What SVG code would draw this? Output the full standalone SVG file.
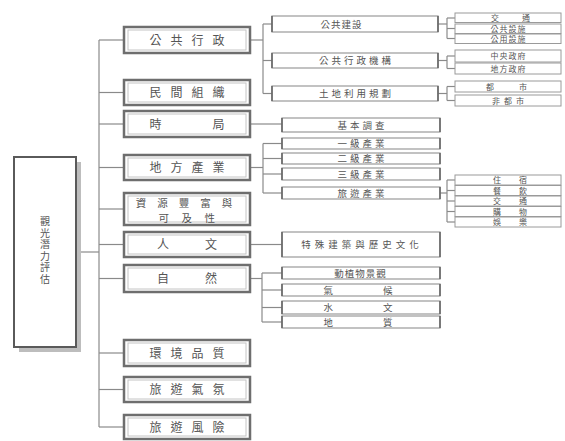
<svg xmlns="http://www.w3.org/2000/svg" width="565" height="441" viewBox="0 0 565 441">
<style>
text{font-family:"Noto Sans CJK TC","Noto Sans CJK SC",sans-serif;fill:#555;text-anchor:middle}
.l1 rect.o{fill:#fff;stroke:#6e6e6e;stroke-width:2.5}
.l1 rect.i{fill:none;stroke:#c4c4c4;stroke-width:1}
.l1 text{font-size:12px;letter-spacing:9px}
.l2 rect{fill:#fff;stroke:#9a9a9a;stroke-width:1.2}
.l2 line{stroke:#666;stroke-width:1.6}
.l2 text{font-size:9.5px;letter-spacing:3px}
.l3 rect{fill:#fff;stroke:#9a9a9a;stroke-width:1}
.l3 text{font-size:8px;letter-spacing:1px}
#connectors line{stroke:#8a8a8a;stroke-width:1.2;fill:none}
</style>
<rect width="565" height="441" fill="#fff"/>

<g id="connectors">
<line x1="81" y1="252" x2="99" y2="252"/>
<line x1="99" y1="40" x2="99" y2="427"/>
<line x1="99" y1="40" x2="124" y2="40"/>
<line x1="99" y1="92.5" x2="124" y2="92.5"/>
<line x1="99" y1="124" x2="124" y2="124"/>
<line x1="99" y1="167.5" x2="124" y2="167.5"/>
<line x1="99" y1="209" x2="124" y2="209"/>
<line x1="99" y1="244.5" x2="124" y2="244.5"/>
<line x1="99" y1="278.5" x2="124" y2="278.5"/>
<line x1="99" y1="353" x2="124" y2="353"/>
<line x1="99" y1="389.5" x2="124" y2="389.5"/>
<line x1="99" y1="427" x2="124" y2="427"/>
<line x1="250" y1="40" x2="263" y2="40"/>
<line x1="263" y1="24" x2="263" y2="93.5"/>
<line x1="263" y1="24" x2="272" y2="24"/>
<line x1="263" y1="60.5" x2="272" y2="60.5"/>
<line x1="263" y1="93.5" x2="272" y2="93.5"/>
<line x1="438" y1="24" x2="447" y2="24"/>
<line x1="447" y1="18" x2="447" y2="38.5"/>
<line x1="447" y1="18" x2="455" y2="18"/>
<line x1="447" y1="28.5" x2="455" y2="28.5"/>
<line x1="447" y1="38.5" x2="455" y2="38.5"/>
<line x1="438" y1="60.5" x2="447" y2="60.5"/>
<line x1="447" y1="56" x2="447" y2="68.5"/>
<line x1="447" y1="56" x2="455" y2="56"/>
<line x1="447" y1="68.5" x2="455" y2="68.5"/>
<line x1="438" y1="93.5" x2="447" y2="93.5"/>
<line x1="447" y1="86.5" x2="447" y2="100.5"/>
<line x1="447" y1="86.5" x2="455" y2="86.5"/>
<line x1="447" y1="100.5" x2="455" y2="100.5"/>
<line x1="250" y1="124" x2="282" y2="124"/>
<line x1="250" y1="167.5" x2="263" y2="167.5"/>
<line x1="263" y1="143.5" x2="263" y2="193"/>
<line x1="263" y1="143.5" x2="282" y2="143.5"/>
<line x1="263" y1="158.5" x2="282" y2="158.5"/>
<line x1="263" y1="174" x2="282" y2="174"/>
<line x1="263" y1="193" x2="282" y2="193"/>
<line x1="440" y1="193" x2="447" y2="193"/>
<line x1="447" y1="180" x2="447" y2="222"/>
<line x1="447" y1="180" x2="455" y2="180"/>
<line x1="447" y1="190.5" x2="455" y2="190.5"/>
<line x1="447" y1="201" x2="455" y2="201"/>
<line x1="447" y1="211.5" x2="455" y2="211.5"/>
<line x1="447" y1="222" x2="455" y2="222"/>
<line x1="250" y1="244.5" x2="282" y2="244.5"/>
<line x1="250" y1="278.5" x2="262" y2="278.5"/>
<line x1="262" y1="273" x2="262" y2="322"/>
<line x1="262" y1="273" x2="282" y2="273"/>
<line x1="262" y1="290" x2="282" y2="290"/>
<line x1="262" y1="307.5" x2="282" y2="307.5"/>
<line x1="262" y1="322" x2="282" y2="322"/>
</g>

<g id="root">
<rect x="19" y="162" width="62" height="190" fill="#bdbdbd"/>
<rect x="14" y="157" width="62" height="190" fill="#fff" stroke="#5a5a5a" stroke-width="2"/>
<text x="45" y="251" font-size="10" style="writing-mode:vertical-rl;letter-spacing:1.5px">觀光潛力評估</text>
</g>

<g id="n-gonggong" class="l1"><rect class="o" x="124" y="27" width="126" height="26"/><rect class="i" x="128" y="30" width="118" height="20"/><text x="191.5" y="44.5">公共行政</text></g>
<g id="n-minjian" class="l1"><rect class="o" x="124" y="80" width="126" height="25"/><rect class="i" x="128" y="83" width="118" height="19"/><text x="191.5" y="97">民間組織</text></g>
<g id="n-shiju" class="l1"><rect class="o" x="124" y="111" width="126" height="26"/><rect class="i" x="128" y="114" width="118" height="20"/><text x="191.5" y="128.5">時　　局</text></g>
<g id="n-difang" class="l1"><rect class="o" x="124" y="155" width="126" height="25"/><rect class="i" x="128" y="158" width="118" height="19"/><text x="191.5" y="172">地方產業</text></g>
<g id="n-ziyuan" class="l1"><rect class="o" x="124" y="193" width="126" height="32"/><rect class="i" x="128" y="196" width="118" height="26"/><text x="189.5" y="206.6" style="font-size:10.5px;letter-spacing:11px">資源豐富與</text><text x="193" y="221.8" style="font-size:10.5px;letter-spacing:12.5px">可及性</text></g>
<g id="n-renwen" class="l1"><rect class="o" x="124" y="232" width="126" height="25"/><rect class="i" x="128" y="235" width="118" height="19"/><text x="193" y="249" style="letter-spacing:12px">人　文</text></g>
<g id="n-ziran" class="l1"><rect class="o" x="124" y="265" width="126" height="27"/><rect class="i" x="128" y="268" width="118" height="21"/><text x="193" y="283" style="letter-spacing:12px">自　然</text></g>
<g id="n-huanjing" class="l1"><rect class="o" x="124" y="340" width="126" height="26"/><rect class="i" x="128" y="343" width="118" height="20"/><text x="191.5" y="357.5">環境品質</text></g>
<g id="n-qifen" class="l1"><rect class="o" x="124" y="377" width="126" height="25"/><rect class="i" x="128" y="380" width="118" height="19"/><text x="191.5" y="394">旅遊氣氛</text></g>
<g id="n-fengxian" class="l1"><rect class="o" x="124" y="415" width="126" height="24"/><rect class="i" x="128" y="418" width="118" height="18"/><text x="191.5" y="431.5">旅遊風險</text></g>

<g id="n-jianshe" class="l2"><rect x="272" y="16" width="166" height="16"/><line x1="272" y1="16" x2="272" y2="32"/><line x1="438" y1="16" x2="438" y2="32"/><text x="341.5" y="27.5" style="letter-spacing:1px">公共建設</text></g>
<g id="n-jigou" class="l2"><rect x="272" y="53" width="166" height="15"/><line x1="272" y1="53" x2="272" y2="68"/><line x1="438" y1="53" x2="438" y2="68"/><text x="356.5" y="64">公共行政機構</text></g>
<g id="n-tudi" class="l2"><rect x="272" y="86" width="166" height="15"/><line x1="272" y1="86" x2="272" y2="101"/><line x1="438" y1="86" x2="438" y2="101"/><text x="356.5" y="97">土地利用規劃</text></g>
<g id="n-jiben" class="l2"><rect x="282" y="118" width="158" height="14"/><line x1="282" y1="118" x2="282" y2="132"/><line x1="440" y1="118" x2="440" y2="132"/><text x="362.5" y="128.5">基本調查</text></g>
<g id="n-yiji" class="l2"><rect x="282" y="138" width="158" height="11"/><line x1="282" y1="138" x2="282" y2="149"/><line x1="440" y1="138" x2="440" y2="149"/><text x="362.5" y="147">一級產業</text></g>
<g id="n-erji" class="l2"><rect x="282" y="153" width="158" height="11"/><line x1="282" y1="153" x2="282" y2="164"/><line x1="440" y1="153" x2="440" y2="164"/><text x="362.5" y="162">二級產業</text></g>
<g id="n-sanji" class="l2"><rect x="282" y="168" width="158" height="12"/><line x1="282" y1="168" x2="282" y2="180"/><line x1="440" y1="168" x2="440" y2="180"/><text x="362.5" y="177.5">三級產業</text></g>
<g id="n-lvyou" class="l2"><rect x="282" y="187" width="158" height="12"/><line x1="282" y1="187" x2="282" y2="199"/><line x1="440" y1="187" x2="440" y2="199"/><text x="362.5" y="196.5">旅遊產業</text></g>
<g id="n-teshu" class="l2"><rect x="282" y="232" width="158" height="25"/><line x1="282" y1="232" x2="282" y2="257"/><line x1="440" y1="232" x2="440" y2="257"/><text x="362" y="248" style="letter-spacing:4px">特殊建築與歷史文化</text></g>
<g id="n-dongzhi" class="l2"><rect x="282" y="267" width="158" height="12"/><line x1="282" y1="267" x2="282" y2="279"/><line x1="440" y1="267" x2="440" y2="279"/><text x="360.5" y="276.5" style="letter-spacing:1px">動植物景觀</text></g>
<g id="n-qihou" class="l2"><rect x="282" y="284" width="158" height="12"/><line x1="282" y1="284" x2="282" y2="296"/><line x1="440" y1="284" x2="440" y2="296"/><text x="383" y="293.5" style="letter-spacing:50px">氣候</text></g>
<g id="n-shuiwen" class="l2"><rect x="282" y="301" width="158" height="13"/><line x1="282" y1="301" x2="282" y2="314"/><line x1="440" y1="301" x2="440" y2="314"/><text x="383" y="311" style="letter-spacing:50px">水文</text></g>
<g id="n-dizhi" class="l2"><rect x="282" y="316" width="158" height="12"/><line x1="282" y1="316" x2="282" y2="328"/><line x1="440" y1="316" x2="440" y2="328"/><text x="383" y="325.5" style="letter-spacing:50px">地質</text></g>

<g id="n-jiaotong" class="l3"><rect x="455" y="13" width="106" height="9.5"/><text x="522" y="20.5" style="letter-spacing:23px">交通</text></g>
<g id="n-sheshi1" class="l3"><rect x="455" y="24" width="106" height="9.5"/><text x="508.5" y="31.5">公共設施</text></g>
<g id="n-sheshi2" class="l3"><rect x="455" y="34" width="106" height="9.5"/><text x="508.5" y="41.5">公用設施</text></g>
<g id="n-zhongyang" class="l3"><rect x="455" y="50" width="106" height="12"/><text x="508.5" y="59">中央政府</text></g>
<g id="n-difangzf" class="l3"><rect x="455" y="63" width="106" height="11"/><text x="508.5" y="71.5">地方政府</text></g>
<g id="n-dushi" class="l3"><rect x="455" y="81" width="106" height="11"/><text x="519" y="89.5" style="letter-spacing:25px">都市</text></g>
<g id="n-feidushi" class="l3"><rect x="455" y="95" width="106" height="11"/><text x="510" y="103.5" style="letter-spacing:4px">非都市</text></g>
<g id="n-zhusu" class="l3"><rect x="455" y="175" width="106" height="10"/><text x="519" y="183" style="letter-spacing:18px">住宿</text></g>
<g id="n-canyin" class="l3"><rect x="455" y="185.5" width="106" height="10"/><text x="519" y="193.5" style="letter-spacing:18px">餐飲</text></g>
<g id="n-jiaotong2" class="l3"><rect x="455" y="196" width="106" height="10"/><text x="519" y="204" style="letter-spacing:18px">交通</text></g>
<g id="n-gouwu" class="l3"><rect x="455" y="206.5" width="106" height="10"/><text x="519" y="214.5" style="letter-spacing:18px">購物</text></g>
<g id="n-yule" class="l3"><rect x="455" y="217" width="106" height="10"/><text x="519" y="225" style="letter-spacing:18px">娛樂</text></g>
</svg>
